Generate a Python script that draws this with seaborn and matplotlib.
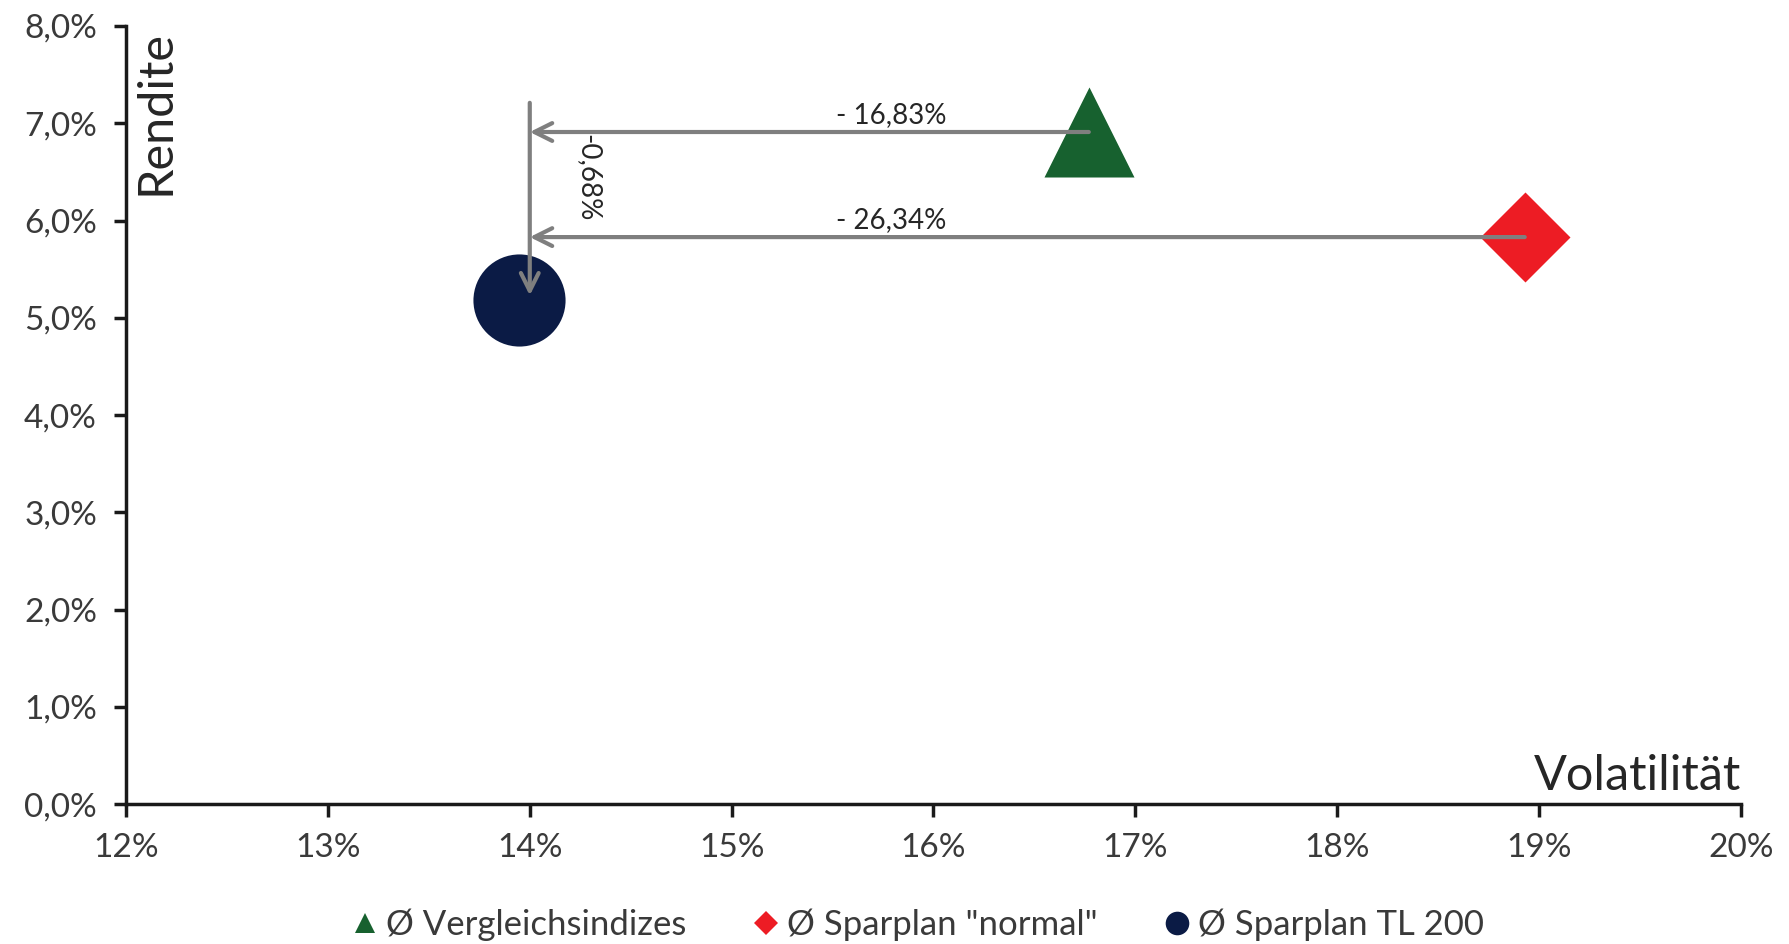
import numpy as np
import pandas as pd
import seaborn as sns
import matplotlib.pyplot as plt
from matplotlib.lines import Line2D

# data (values in %)
series_names = ['Ø Vergleichsindizes', 'Ø Sparplan "normal"', 'Ø Sparplan TL 200']
volatility = [16.77, 18.93, 13.945]
returns = [6.91, 5.83, 5.18]
series_colors = ['#17612f', '#ed1c24', '#0b1b45']
series_markers = ['^', 'D', 'o']

x_ticks = [12, 13, 14, 15, 16, 17, 18, 19, 20]
x_tick_labels = ['12%', '13%', '14%', '15%', '16%', '17%', '18%', '19%', '20%']
y_ticks = [0, 1, 2, 3, 4, 5, 6, 7, 8]
y_tick_labels = ['0,0%', '1,0%', '2,0%', '3,0%', '4,0%', '5,0%', '6,0%', '7,0%', '8,0%']

# annotation arrows
arrow_x = 14.0
arrow_top = 7.21
arrow_bottom = 5.23
diff_labels = ['- 16,83%', '- 26,34%']
rendite_diff_label = '-0,68%'

sns.set_style('white')
plt.rcParams['font.family'] = ['Lato', 'DejaVu Sans']
text_color = '#262626'
tick_color = '#3a3a3a'
arrow_color = '#7f7f7f'

df = pd.DataFrame({'Volatilität': volatility, 'Rendite': returns, 'Serie': series_names})

fig = plt.figure(figsize=(17.89, 9.44), dpi=100)
ax = fig.add_axes([0.0705, 0.148, 0.9025, 0.8245])

marker_sizes = [4200, 2100, 4400]
for i, name in enumerate(series_names):
    sns.scatterplot(data=df[df['Serie'] == name], x='Volatilität', y='Rendite',
                    color=series_colors[i], marker=series_markers[i], s=marker_sizes[i],
                    linewidth=0, ax=ax, zorder=2, legend=False)

# horizontal arrows from the two comparison points to the TL 200 volatility
for i in range(2):
    ax.annotate('', xy=(arrow_x, returns[i]), xytext=(volatility[i], returns[i]),
                arrowprops=dict(arrowstyle='->', color=arrow_color, lw=3,
                                mutation_scale=32, shrinkA=0, shrinkB=0), zorder=3)
    ax.text(15.79, returns[i] + 0.04, diff_labels[i], ha='center', va='bottom',
            fontsize=20, color=text_color)

# vertical arrow
ax.annotate('', xy=(arrow_x, arrow_bottom), xytext=(arrow_x, arrow_top),
            arrowprops=dict(arrowstyle='->', color=arrow_color, lw=3,
                            mutation_scale=32, shrinkA=0, shrinkB=0), zorder=3)
ax.text(14.29, 6.44, rendite_diff_label, rotation=-90, ha='center', va='center',
        fontsize=20, color=text_color)

ax.set_xlim(12, 20)
ax.set_ylim(0, 8)
ax.set_xticks(x_ticks)
ax.set_xticklabels(x_tick_labels)
ax.set_yticks(y_ticks)
ax.set_yticklabels(y_tick_labels)
ax.tick_params(axis='both', which='major', labelsize=24, labelcolor=tick_color,
               length=9, width=2.5, color='#1a1a1a', direction='out',
               bottom=True, left=True)
ax.tick_params(axis='x', pad=12)
ax.tick_params(axis='y', pad=12)

sns.despine(ax=ax)
for side in ['left', 'bottom']:
    ax.spines[side].set_linewidth(2.5)
    ax.spines[side].set_color('#1a1a1a')

ax.set_xlabel('')
ax.set_ylabel('')
ax.text(1.0, 0.008, 'Volatilität', transform=ax.transAxes, ha='right', va='bottom',
        fontsize=35, color=text_color)
ax.text(0.018, 0.995, 'Rendite', transform=ax.transAxes, rotation=90, ha='center',
        va='top', fontsize=35, color=text_color)

handles = [Line2D([], [], linestyle='none', marker=series_markers[i], color=series_colors[i],
                  markersize=[15, 12, 17][i], markeredgewidth=0) for i in range(3)]
leg = fig.legend(handles, series_names, loc='lower center', bbox_to_anchor=(0.513, -0.03),
                 ncol=3, frameon=False, fontsize=25, handlelength=0.8, handletextpad=0.2,
                 columnspacing=1.9)
for t in leg.get_texts():
    t.set_color(tick_color)

fig.savefig('out.png', dpi=100)
